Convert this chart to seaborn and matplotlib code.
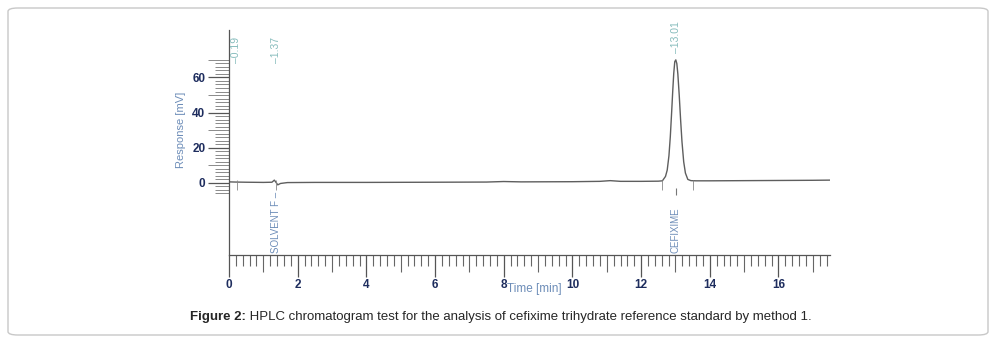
import numpy as np
import matplotlib
matplotlib.use("Agg")
import matplotlib.pyplot as plt
import seaborn as sns
from matplotlib.patches import FancyBboxPatch
from matplotlib.ticker import MultipleLocator, FixedLocator

# chromatogram trace (time in min, response in mV)
time_min = [0.0, 0.19, 0.5, 1.0, 1.25, 1.32, 1.37, 1.42, 1.5, 1.7, 2.5, 4.0, 6.0, 7.5, 8.0, 8.5,
            10.0, 10.8, 11.1, 11.4, 12.0, 12.5, 12.62, 12.71, 12.76, 12.81, 12.85, 12.89, 12.92,
            12.95, 12.98, 13.01, 13.04, 13.07, 13.11, 13.15, 13.19, 13.24, 13.29, 13.36, 13.45,
            13.6, 14.0, 15.0, 16.0, 17.0, 17.5]
response_mv = [0.6, 0.5, 0.4, 0.3, 0.4, 1.6, 0.3, -1.1, -0.3, 0.2, 0.3, 0.3, 0.4, 0.5, 0.8, 0.6,
               0.7, 0.9, 1.3, 0.9, 0.9, 1.0, 1.2, 3.7, 7.3, 15.4, 26.3, 40.6, 52.0,
               62.3, 69.0, 70.0, 67.9, 61.9, 49.8, 35.9, 23.4, 12.0, 5.6, 2.0, 1.3,
               1.2, 1.2, 1.3, 1.4, 1.5, 1.6]

# peak labels (retention times) and names
rt_labels = [0.19, 1.37, 13.01]
rt_label_base = [68, 68, 74]
peak_names = ["SOLVENT F \u2013", "CEFIXIME"]
peak_name_times = [1.37, 13.01]
# integration / event marks on the baseline
event_times = [0.23, 1.37, 12.62, 13.52]

x_major = [0, 2, 4, 6, 8, 10, 12, 14, 16]
y_major = [0, 20, 40, 60]
y_medium = [10, 30, 50, 70]

caption_bold = "Figure 2:"
caption_rest = " HPLC chromatogram test for the analysis of cefixime trihydrate reference standard by method 1."

sns.set_style("ticks")
plt.rcParams["font.family"] = ["Liberation Sans", "DejaVu Sans"]

navy = "#1e2d5e"
label_blue = "#6d8db8"
teal = "#86bcbc"
trace = "#5e5e5e"

fig = plt.figure(figsize=(9.96, 3.43), dpi=100)
fig.patches.append(FancyBboxPatch((8 / 996, 8 / 343), 980 / 996, 327 / 343,
                                  boxstyle="round,pad=0,rounding_size=0.01",
                                  transform=fig.transFigure, fill=False,
                                  edgecolor="#c8c8c8", linewidth=1.0))

ax = fig.add_axes([229 / 996, 1 - 255 / 343, 601 / 996, 225 / 343])
sns.lineplot(x=time_min, y=response_mv, ax=ax, color=trace, linewidth=1.0, estimator=None, sort=False)

ax.set_xlim(0, 17.5)
ax.set_ylim(-41, 87)
sns.despine(ax=ax)
ax.set_facecolor("none")

ax.xaxis.set_major_locator(FixedLocator(x_major))
ax.xaxis.set_minor_locator(MultipleLocator(0.2))
ax.yaxis.set_major_locator(FixedLocator(y_major))
ax.yaxis.set_minor_locator(FixedLocator(np.arange(-6, 71, 2)))
ax.tick_params(axis="x", which="major", length=16, width=0.9, color="#555555",
               labelsize=8.5, labelcolor=navy, pad=1)
ax.tick_params(axis="x", which="minor", length=8, width=0.8, color="#666666")
ax.tick_params(axis="y", which="major", length=15, width=0.9, color="#555555",
               labelsize=8.5, labelcolor=navy, pad=2)
ax.tick_params(axis="y", which="minor", length=10, width=0.6, color="#777777")
for lab in ax.get_xticklabels() + ax.get_yticklabels():
    lab.set_fontweight("bold")
for t in ax.xaxis.get_minor_ticks():
    if abs(t.get_loc() - round(t.get_loc())) < 1e-6:
        t.tick1line.set_markersize(12)
for t in ax.yaxis.get_minor_ticks():
    if any(abs(t.get_loc() - m) < 1e-6 for m in y_medium):
        t.tick1line.set_markersize(15)
for s in ["left", "bottom"]:
    ax.spines[s].set_color("#555555")
    ax.spines[s].set_linewidth(0.9)

ax.set_xlabel("Time [min]", fontsize=8.5, color=label_blue, ha="left")
ax.xaxis.set_label_coords((507 - 229) / 601, -0.125)
ax.set_ylabel("Response [mV]", fontsize=8, color=label_blue)
ax.yaxis.set_label_coords(-0.072, 0.556)

for rt, base in zip(rt_labels, rt_label_base):
    ax.text(rt, base, "\u2013" + f"{rt:.2f}", rotation=90, ha="center", va="bottom",
            fontsize=7.5, color=teal)

for name, rt in zip(peak_names, peak_name_times):
    ax.text(rt, -40, name, rotation=90, ha="center", va="bottom", fontsize=7, color=label_blue)
ax.vlines([13.01], -7, -3, color="#777777", linewidth=0.8)
ax.vlines(event_times, -4, 1.5, color="#888888", linewidth=0.6)

fig.canvas.draw()
cap_y = 1 - 317 / 343
t1 = fig.text(190 / 996, cap_y, caption_bold, fontsize=9.5, fontweight="bold", va="center")
bb = t1.get_window_extent(renderer=fig.canvas.get_renderer())
fig.text(bb.x1 / 996, cap_y, caption_rest, fontsize=9.5, va="center")

fig.savefig("out.png", dpi=100)
